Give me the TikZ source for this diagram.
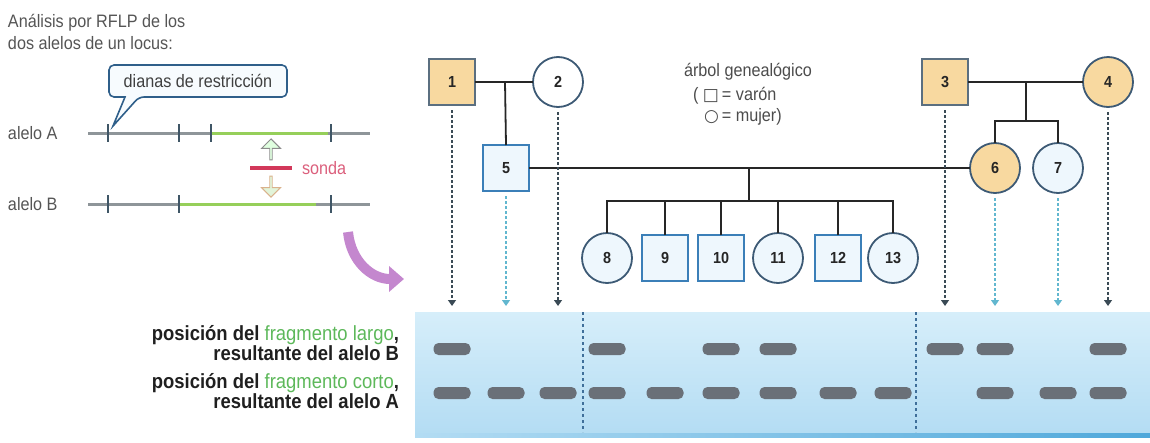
\documentclass[tikz,border=0pt]{standalone}
\usepackage{fontspec}
\setmainfont{Liberation Sans}[FakeStretch=0.9]
\newfontfamily\symfont{DejaVu Sans}
\usetikzlibrary{arrows.meta,shapes.arrows,calc}
\definecolor{orangefill}{HTML}{F8D9A0}
\definecolor{bluefill}{HTML}{EEF7FD}
\definecolor{blueline}{HTML}{3B7FB8}
\definecolor{darkline}{HTML}{3D5A75}
\definecolor{greyline}{HTML}{5B6F80}
\definecolor{gelA}{HTML}{D6EEFA}
\definecolor{gelB}{HTML}{B3DCF3}
\definecolor{gelEdge}{HTML}{4FA8DA}
\definecolor{bandgrey}{HTML}{6A7078}
\definecolor{dnagrey}{HTML}{8E9599}
\definecolor{dnagreen}{HTML}{96CF5A}
\definecolor{tickcol}{HTML}{3F5666}
\definecolor{sondared}{HTML}{D2385A}
\definecolor{sondatext}{HTML}{DB5F7C}
\definecolor{tgreen}{HTML}{5DB85A}
\definecolor{purplearr}{HTML}{C487CE}
\definecolor{titlegrey}{HTML}{555555}
\definecolor{arrdark}{HTML}{3A4A55}
\definecolor{arrlight}{HTML}{62B7CF}
\definecolor{sepblue}{HTML}{3F6F9A}
\definecolor{callfill}{HTML}{F7FBFE}
\definecolor{callline}{HTML}{2F5F8A}
\begin{document}
\begin{tikzpicture}[x=1pt,y=-1pt,
  every node/.style={inner sep=0pt, outer sep=0pt},
  numfont/.style={font=\fontsize{16}{16}\selectfont\bfseries, text=black!85},
  sqorange/.style={numfont, draw=greyline, line width=1.8pt, fill=orangefill, minimum size=46pt},
  sqblue/.style={numfont, draw=blueline, line width=1.8pt, fill=bluefill, minimum size=46pt},
  ciorange/.style={numfont, circle, draw=darkline, line width=1.8pt, fill=orangefill, minimum size=50pt},
  ciblue/.style={numfont, circle, draw=darkline, line width=1.8pt, fill=bluefill, minimum size=50pt},
  pedline/.style={line width=1.8pt, draw=black!85},
  dnaline/.style={line width=3pt, draw=dnagrey},
  dnagreenline/.style={line width=3pt, draw=dnagreen},
  tick/.style={line width=1.5pt, draw=tickcol},
  band/.style={fill=bandgrey, rounded corners=5pt, minimum width=37pt, minimum height=12pt},
  droparrow/.style={line width=1.3pt, dash pattern=on 2.5pt off 2.5pt, shorten <=5pt, -{Triangle[width=8pt,length=6pt]}},
  dropdark/.style={droparrow, draw=arrdark, arrdark},
  droplight/.style={droparrow, draw=arrlight, arrlight},
  lbl/.style={font=\fontsize{18}{21}\selectfont, text=titlegrey},
  boldlbl/.style={font=\fontsize{20.5}{18.5}\selectfont\bfseries, text=black!88, align=right, anchor=east}
]
\useasboundingbox (0,0) rectangle (1150,442);

% ---------- title ----------
\node[lbl, anchor=west, align=left, font=\fontsize{18}{22}\selectfont] (title) at (8,32) {Análisis por RFLP de los\\dos alelos de un locus:};

% ---------- callout ----------
\node[lbl, text=black!75, minimum width=178pt, minimum height=32pt] (callout) at (198,81) {dianas de restricción};
\draw[callline, line width=1.6pt, fill=callfill, rounded corners=5pt]
  (callout.north west) -- (callout.north east) -- (callout.south east)
  -- ([xshift=-148pt]callout.south east) [sharp corners]-- (113,126)
  -- ([xshift=16pt]callout.south west) [rounded corners=5pt]-- (callout.south west) -- cycle;
\node[lbl, text=black!75] at (callout) {dianas de restricción};

% ---------- alleles ----------
\node[lbl, anchor=west] (alA) at (8,133) {alelo A};
\node[lbl, anchor=west] (alB) at (8,204) {alelo B};
\draw[dnaline] (88,133) -- (370,133);
\draw[dnagreenline] (212,133) -- (328,133);
\foreach \x in {108,179,211,331} \draw[tick] (\x,124) -- (\x,142);
\draw[dnaline] (88,204) -- (370,204);
\draw[dnagreenline] (180,204) -- (316,204);
\foreach \x in {108,179,331} \draw[tick] (\x,195) -- (\x,213);

% probe
\draw[sondared, line width=3.5pt] (250,168) -- (292,168);
\node[lbl, anchor=west, text=sondatext] (sonda) at (302,168) {sonda};
\node[single arrow, draw=black!45, fill=green!12, line width=0.9pt, minimum height=21pt, minimum width=19pt, single arrow head extend=3pt, shape border rotate=90] (up) at (271,150) {};
\node[single arrow, draw=brown!60, fill=yellow!25!green!15, line width=0.9pt, minimum height=21pt, minimum width=19pt, single arrow head extend=3pt, shape border rotate=270] (down) at (271,186) {};

% purple curved arrow
\draw[purplearr, line width=10pt, -{Triangle[width=25pt,length=15pt]}] (348,232) .. controls (351,262) and (372,279) .. (404,279);

% ---------- gel ----------
\shade[top color=gelA, bottom color=gelB] (415,312) rectangle (1150,436);
\shade[left color=gelB, right color=gelEdge] (415,433) rectangle (1150,437);
\draw[sepblue, line width=1.1pt, dash pattern=on 3pt off 3pt] (583,312) -- (583,432);
\draw[sepblue, line width=1.1pt, dash pattern=on 3pt off 3pt] (916,312) -- (916,432);

% ---------- pedigree ----------
\node[sqorange] (n1) at (452,82) {1};
\node[ciblue, fill=white] (n2) at (558,82) {2};
\node[sqorange] (n3) at (945,82) {3};
\node[ciorange] (n4) at (1108,82) {4};
\node[sqblue] (n5) at (506,168) {5};
\node[ciorange] (n6) at (995,168) {6};
\node[ciblue] (n7) at (1058,168) {7};
\node[ciblue] (n8) at (607,258) {8};
\node[sqblue] (n9) at (665,258) {9};
\node[sqblue] (n10) at (721,258) {10};
\node[ciblue] (n11) at (778,258) {11};
\node[sqblue] (n12) at (838,258) {12};
\node[ciblue] (n13) at (893,258) {13};

\coordinate (m12) at (505,82);
\coordinate (m34) at (1026,82);
\coordinate (m56) at (749,168);
\coordinate (s34) at (1026,121);
\coordinate (s56) at (749,201);
\draw[pedline] (n1.east) -- (n2.west);
\draw[pedline] (m12) -- (n5.north);
\draw[pedline] (n3.east) -- (n4.west);
\draw[pedline] (m34) -- (s34);
\draw[pedline] (n6.north) |- (s34) -| (n7.north);
\draw[pedline] (n5.east) -- (n6.west);
\draw[pedline] (m56) -- (s56);
\draw[pedline] (n8.north) |- (s56) -| (n13.north);
\foreach \n in {n9,n10,n11,n12} \draw[pedline] (\n.north) -- (\n.north |- s56);

% legend
\node[lbl, text=black!70] (leg1) at (748,72) {árbol genealógico};
\node[lbl, text=black!70, anchor=west] (leg2) at (693,96) {( {\symfont\fontsize{17}{17}\selectfont□}\,= varón};
\node[lbl, text=black!70, anchor=west] (leg3) at (704,117) {{\symfont\fontsize{17}{17}\selectfont○}\,= mujer)};

% ---------- drop arrows ----------
\foreach \n/\s in {n1/dropdark, n2/dropdark, n3/dropdark, n4/dropdark, n5/droplight, n6/droplight, n7/droplight} {
  \coordinate (g\n) at (\n.south |- 0,306);
  \draw[\s] (\n.south) -- (g\n);
}

% ---------- bands ----------
\foreach \n in {n1,n8,n10,n11,n3,n6,n4} \node[band] (bu\n) at (\n |- 0,349) {};
\foreach \n in {n1,n5,n2,n8,n9,n10,n11,n12,n13,n6,n7,n4} \node[band] (bl\n) at (\n |- 0,393) {};

% ---------- gel labels ----------
\node[boldlbl] (lab1) at (399,343) {posición del \textcolor{tgreen}{\mdseries fragmento largo},\\resultante del alelo B};
\node[boldlbl] (lab2) at (399,391) {posición del \textcolor{tgreen}{\mdseries fragmento corto},\\resultante del alelo A};
\end{tikzpicture}
\end{document}
